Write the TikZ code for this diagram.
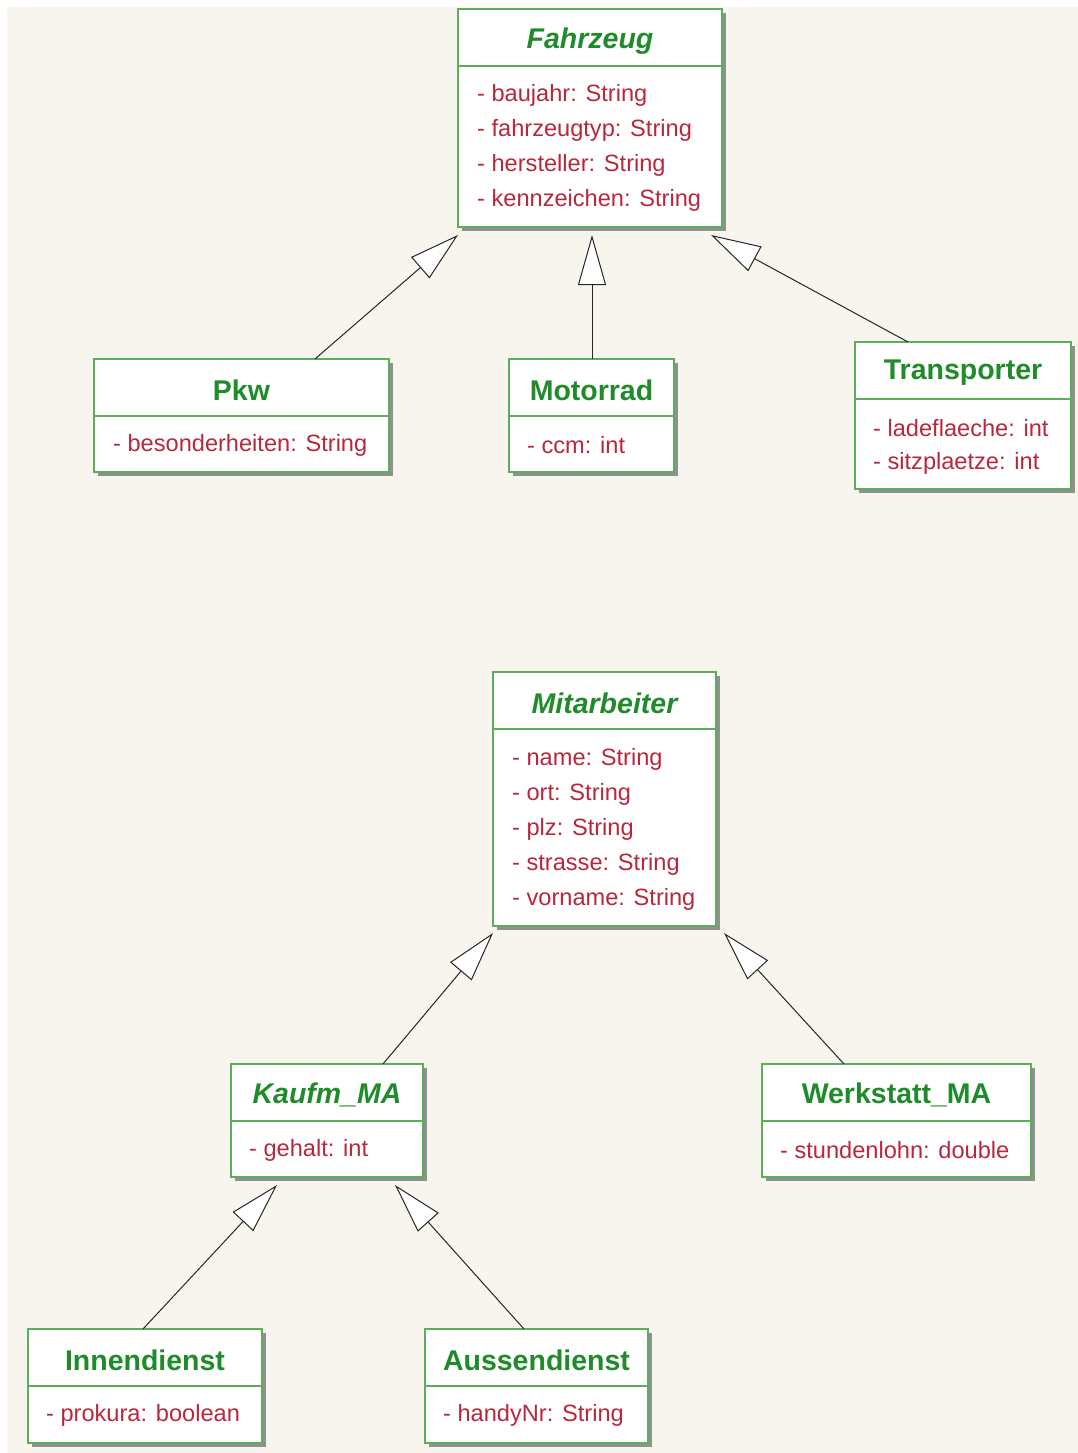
\documentclass[tikz,border=0pt]{standalone}
\usepackage{fontspec}
\setmainfont{Liberation Sans}
\usetikzlibrary{arrows.meta,calc}

\definecolor{paper}{HTML}{F7F5EE}
\definecolor{framegreen}{HTML}{5CAE5C}
\definecolor{titlegreen}{HTML}{1F8B2A}
\definecolor{attrred}{HTML}{B8283C}
\definecolor{shadowgray}{HTML}{909090}

\tikzset{
  x=1pt, y=-1pt,
  classframe/.style={draw=framegreen, line width=2pt, fill=white, rectangle,
    inner sep=0pt, outer sep=0pt},
  classline/.style={draw=framegreen, line width=1.6pt},
  classtitle/.style={text=titlegreen, inner sep=0pt, yshift=-3pt,
    font=\bfseries\fontsize{28.5}{33}\selectfont},
  abstracttitle/.style={classtitle, font=\bfseries\itshape\fontsize{28.5}{33}\selectfont},
  attr/.style={text=attrred, anchor=west, inner sep=0pt, yshift=-3pt,
    font=\fontsize{23.6}{28}\selectfont},
  gen/.style={draw=black!85, line width=1pt,
    -{Triangle[length=50pt, width=28pt, fill=white, line width=1pt]}},
}

% #1 name, #2 left, #3 top, #4 right, #5 bottom, #6 y of the compartment line
\newcommand\umlframe[6]{%
  \fill[shadowgray] (#2+4,#3+4) rectangle (#4+4,#5+4);
  \node[classframe, anchor=north west,
        minimum width={(#4-#2)*1pt}, minimum height={(#5-#3)*1pt}] (#1) at (#2,#3) {};
  \draw[classline] (#2,#6) -- (#4,#6);
}

\begin{document}
\begin{tikzpicture}
% paper
\fill[paper] (0,0) rectangle (1078,1453);
\fill[white] (0,0) rectangle (1078,7);
\fill[white] (0,0) rectangle (7,1453);
\useasboundingbox (0,0) rectangle (1078,1453);

% ---------- vehicles ----------
\umlframe{fz}{458}{9}{722}{227}{66}
\node[abstracttitle] (fz-t) at (590,38) {Fahrzeug};
\node[attr] (fz-a1) at (477,92)  {- baujahr: String};
\node[attr] (fz-a2) at (477,127) {- fahrzeugtyp: String};
\node[attr] (fz-a3) at (477,162) {- hersteller: String};
\node[attr] (fz-a4) at (477,197) {- kennzeichen: String};

\umlframe{pkw}{94}{359}{389}{472}{416}
\node[classtitle] (pkw-t) at (241.5,387) {Pkw};
\node[attr] (pkw-a1) at (113,442) {- besonderheiten: String};

\umlframe{mr}{509}{359}{674}{472}{416}
\node[classtitle] (mr-t) at (591.5,387) {Motorrad};
\node[attr] (mr-a1) at (527,442) {- ccm: int};

\umlframe{tr}{855}{342}{1071}{489}{399}
\node[classtitle] (tr-t) at (963,370) {Transporter};
\node[attr] (tr-a1) at (873,425) {- ladeflaeche: int};
\node[attr] (tr-a2) at (873,460) {- sitzplaetze: int};

\draw[gen] ($(pkw.north west)+(221,0)$) -- ($(fz.south west)+(0,8)$);
\draw[gen] ($(mr.north west)+(83,0)$)   -- ($(fz.south west)+(134,8)$);
\draw[gen] ($(tr.north west)+(53,0)$)   -- ($(fz.south east)+(-11,8)$);

% ---------- staff ----------
\umlframe{ma}{493}{672}{716}{926}{729}
\node[abstracttitle] (ma-t) at (604.5,700) {Mitarbeiter};
\node[attr] (ma-a1) at (512,756) {- name: String};
\node[attr] (ma-a2) at (512,791) {- ort: String};
\node[attr] (ma-a3) at (512,826) {- plz: String};
\node[attr] (ma-a4) at (512,861) {- strasse: String};
\node[attr] (ma-a5) at (512,896) {- vorname: String};

\umlframe{km}{231}{1064}{423}{1177}{1121}
\node[abstracttitle] (km-t) at (327,1092) {Kaufm\_MA};
\node[attr] (km-a1) at (249,1147) {- gehalt: int};

\umlframe{wm}{762}{1064}{1031}{1177}{1121}
\node[classtitle] (wm-t) at (896.5,1092) {Werkstatt\_MA};
\node[attr] (wm-a1) at (780,1147) {- stundenlohn: double};

\umlframe{in}{28}{1329}{262}{1443}{1386}
\node[classtitle] (in-t) at (145,1357) {Innendienst};
\node[attr] (in-a1) at (46,1412) {- prokura: boolean};

\umlframe{ad}{425}{1329}{648}{1443}{1386}
\node[classtitle] (ad-t) at (536.5,1357) {Aussendienst};
\node[attr] (ad-a1) at (443,1412) {- handyNr: String};

\draw[gen] ($(km.north west)+(152,0)$) -- ($(ma.south west)+(0,7)$);
\draw[gen] ($(wm.north west)+(82,0)$)  -- ($(ma.south east)+(8,7)$);
\draw[gen] ($(in.north west)+(115,0)$) -- ($(km.south west)+(46,8)$);
\draw[gen] ($(ad.north west)+(99,0)$)  -- ($(km.south east)+(-28,8)$);
\end{tikzpicture}
\end{document}
